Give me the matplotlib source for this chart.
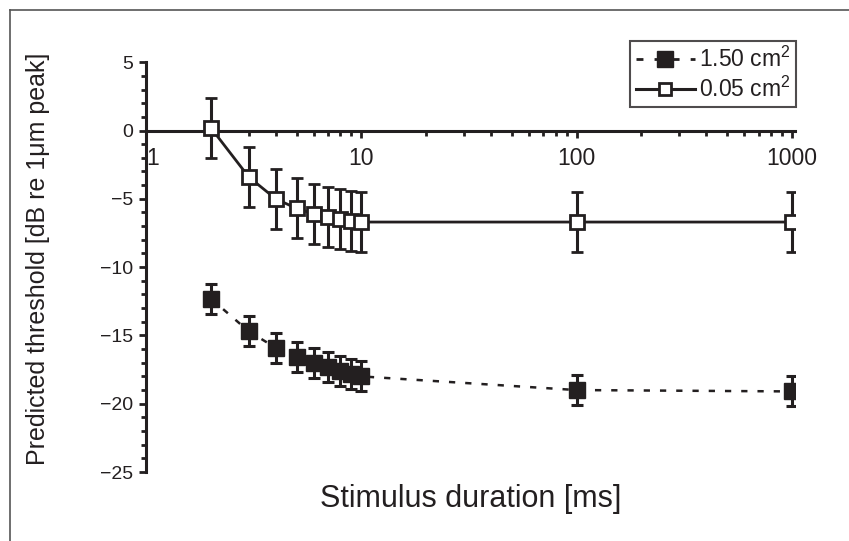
import numpy as np
import matplotlib.pyplot as plt
from matplotlib.lines import Line2D
from matplotlib.ticker import LogLocator, NullFormatter, MultipleLocator, FixedFormatter, FixedLocator

# Data
duration = [2, 3, 4, 5, 6, 7, 8, 9, 10, 100, 1000]
thr_large = [-12.3, -14.7, -15.9, -16.6, -17.0, -17.3, -17.6, -17.8, -18.0, -19.0, -19.1]
err_large = [1.1, 1.1, 1.1, 1.1, 1.1, 1.1, 1.1, 1.1, 1.1, 1.1, 1.1]
thr_small = [0.2, -3.4, -5.0, -5.7, -6.1, -6.3, -6.5, -6.6, -6.7, -6.7, -6.7]
err_small = [2.2, 2.2, 2.2, 2.2, 2.2, 2.2, 2.2, 2.2, 2.2, 2.2, 2.2]
labels = ['1.50 cm$^2$', '0.05 cm$^2$']
xticks = [1, 10, 100, 1000]
xticklabels = ['1', '10', '100', '1000']
yticks = [-25, -20, -15, -10, -5, 0, 5]

ink = '#231f20'
dash = (0, (2.5, 4))
plt.rcParams['font.family'] = ['Liberation Sans', 'DejaVu Sans']
plt.rcParams['mathtext.fontset'] = 'custom'
plt.rcParams['mathtext.rm'] = 'Liberation Sans'

fig = plt.figure(figsize=(8.49, 5.41), dpi=100)
ax = fig.add_axes([0.172, 0.1275, 0.764, 0.7575])

# page frame (top and left edge)
fig.add_artist(Line2D([10/849, 1], [1-10/541, 1-10/541], color='#555555', lw=1.2))
fig.add_artist(Line2D([10/849, 10/849], [0, 1-10/541], color='#555555', lw=1.2))

ax.errorbar(duration, thr_large, yerr=err_large, fmt='s', ms=11, color=ink,
            mfc=ink, mec=ink, ecolor=ink, elinewidth=2.2, capsize=4.5, capthick=2.2,
            ls=dash, lw=1.8, zorder=3)
ax.errorbar(duration, thr_small, yerr=err_small, fmt='s', ms=10, color=ink,
            mfc='white', mec=ink, mew=2, ecolor=ink, elinewidth=2.2, capsize=4.5,
            capthick=2.2, ls='-', lw=2, zorder=3)

ax.set_xscale('log')
ax.set_xlim(1, 1030)
ax.set_ylim(-25, 5)

for s in ['top', 'right']:
    ax.spines[s].set_visible(False)
ax.spines['bottom'].set_position(('data', 0))
ax.spines['left'].set_bounds(-25, 5)
for s in ['bottom', 'left']:
    ax.spines[s].set_linewidth(2.2)
    ax.spines[s].set_color(ink)
    ax.spines[s].set_zorder(2)

ax.xaxis.set_major_locator(FixedLocator(xticks))
ax.xaxis.set_major_formatter(FixedFormatter(xticklabels))
ax.xaxis.set_minor_locator(LogLocator(base=10, subs=np.arange(2, 10)))
ax.xaxis.set_minor_formatter(NullFormatter())
ax.yaxis.set_minor_locator(MultipleLocator(1))
ax.set_yticks(yticks)
ax.set_yticklabels([str(v).replace('-', '\u2212') for v in yticks])

ax.tick_params(axis='both', which='major', direction='out', length=5, width=2,
               color=ink, labelcolor=ink)
ax.tick_params(axis='both', which='minor', direction='out', length=3.5, width=2, color=ink)
ax.tick_params(axis='x', which='major', pad=7, labelsize=16.5)
ax.tick_params(axis='y', which='major', pad=4, labelsize=14)
ax.get_xticklabels()[0].set_horizontalalignment('left')

ax.set_ylabel('Predicted threshold [dB re 1\u03bcm peak]', fontsize=18, color=ink)
ax.yaxis.set_label_coords(-0.148, 0.52)
ax.set_xlabel('Stimulus duration [ms]', fontsize=22, color=ink)
ax.xaxis.set_label_coords(0.5, -0.03)

handles = [
    Line2D([], [], color=ink, ls=dash, lw=2, marker='s', ms=11, mfc=ink, mec=ink),
    Line2D([], [], color=ink, ls='-', lw=2.2, marker='s', ms=9, mfc='white', mec=ink, mew=2),
]
leg = fig.legend(handles, labels, loc='upper right', bbox_to_anchor=(796/849, 1-41/541),
                 fontsize=16.5, frameon=True, fancybox=False, edgecolor=ink,
                 handlelength=2.6, handletextpad=0.15, borderpad=0.25,
                 labelspacing=0.2, borderaxespad=0)
leg.get_frame().set_linewidth(1.5)
for t in leg.get_texts():
    t.set_color(ink)

fig.savefig('out.png', dpi=100)
